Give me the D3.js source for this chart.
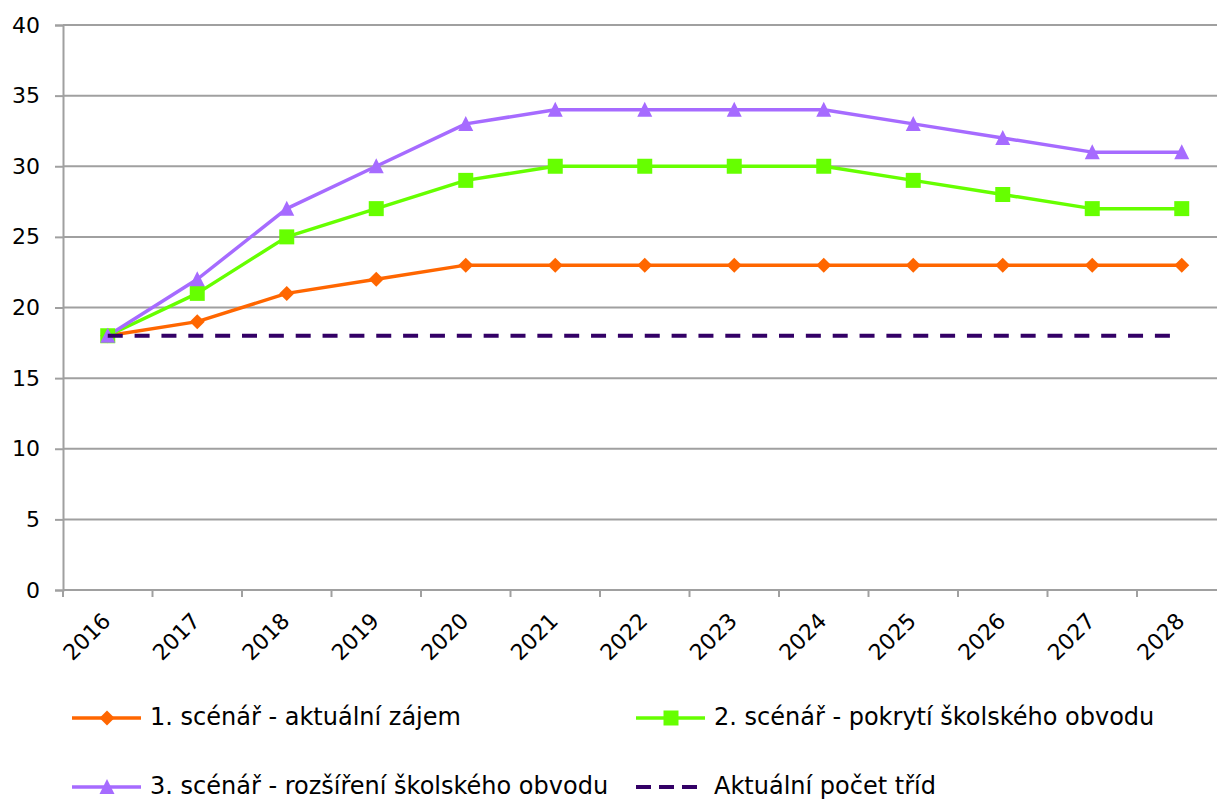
<!DOCTYPE html>
<html><head><meta charset="utf-8">
<script src="https://cdn.jsdelivr.net/npm/d3@7"></script>
<style>body{margin:0;background:#fff}svg{display:block;font-family:"DejaVu Sans",Verdana,sans-serif}</style>
</head><body><svg id="c" width="1217" height="799"></svg>
<script>
const years = ["2016","2017","2018","2019","2020","2021","2022","2023","2024","2025","2026","2027","2028"];
const scen1 = [18,19,21,22,23,23,23,23,23,23,23,23,23];
const scen2 = [18,21,25,27,29,30,30,30,30,29,28,27,27];
const scen3 = [18,22,27,30,33,34,34,34,34,33,32,31,31];
const current = [18,18,18,18,18,18,18,18,18,18,18,18,18];
const yTicks = [0,5,10,15,20,25,30,35,40];
const names = ["1. scénář - aktuální zájem","2. scénář - pokrytí školského obvodu","3. scénář - rozšíření školského obvodu","Aktuální počet tříd"];

const svg = d3.select("#c");
const L = 63, T = 25, B = 590, bw = 89.5;
const GRID = "#a0a0a0";
const x = d3.scaleBand().domain(years).range([L, L + bw*years.length]).paddingInner(0).paddingOuter(0);
const y = d3.scaleLinear().domain([0,40]).range([B, T]);
const cx = d => x(d) + x.bandwidth()/2;

// gridlines
svg.append("g").selectAll("line").data(yTicks).join("line")
  .attr("x1", L).attr("x2", 1230).attr("y1", d=>y(d)).attr("y2", d=>y(d))
  .attr("stroke", GRID).attr("stroke-width", 2);

// y axis
const ya = svg.append("g").attr("transform", `translate(${L},0)`)
  .call(d3.axisLeft(y).tickValues(yTicks).tickSize(8).tickPadding(15));
ya.select(".domain").attr("stroke",GRID).attr("stroke-width",2);
ya.selectAll(".tick line").attr("stroke",GRID).attr("stroke-width",2);
ya.selectAll("text").attr("font-size", 22).attr("fill","#000").attr("font-family","DejaVu Sans, Verdana, sans-serif");

// x axis (band boundaries as ticks)
const bounds = years.map(d => x(d)).concat([x(years[years.length-1]) + x.bandwidth()]);
svg.append("line").attr("x1", L).attr("x2", 1230).attr("y1", B).attr("y2", B).attr("stroke",GRID).attr("stroke-width",2);
svg.append("g").selectAll("line").data(bounds).join("line")
  .attr("x1", d=>d).attr("x2", d=>d).attr("y1", B).attr("y2", B+7)
  .attr("stroke",GRID).attr("stroke-width",2);
svg.append("g").selectAll("text").data(years).join("text")
  .attr("transform", d => `translate(${cx(d)},${B+28}) rotate(-45)`)
  .attr("text-anchor","end").attr("dominant-baseline","middle")
  .attr("font-size", 22).attr("fill","#000").text(d=>d);

const series = [
  {v: scen1, c: "#ff6600", m: "diamond"},
  {v: scen2, c: "#66ff00", m: "square"},
  {v: scen3, c: "#a66bff", m: "triangle"},
  {v: current, c: "#330066", m: null, dash: true}
];
const line = d3.line().x((d,i)=>cx(years[i])).y(d=>y(d));
const markerPath = {
  diamond: "M0,-7.5L7.5,0L0,7.5L-7.5,0Z",
  square: "M-7.5,-7.5H7.5V7.5H-7.5Z",
  triangle: "M0,-8L7.5,7L-7.5,7Z"
};

[series[0], series[1], series[2]].forEach(s => {
  svg.append("path").attr("d", line(s.v)).attr("fill","none").attr("stroke", s.c).attr("stroke-width",3.5).attr("stroke-linejoin","round");
});
[series[0], series[1], series[2]].forEach(s => {
  svg.append("g").selectAll("path").data(s.v).join("path")
    .attr("transform", (d,i)=>`translate(${cx(years[i])},${y(d)})`)
    .attr("d", markerPath[s.m]).attr("fill", s.c);
});
svg.append("path").attr("d", line(current)).attr("fill","none").attr("stroke","#330066")
  .attr("stroke-width",4).attr("stroke-dasharray","15,11.85").attr("stroke-linecap","butt");

// legend
const leg = [
  {x:72, y:718, s: series[0], n: names[0]},
  {x:636, y:718, s: series[1], n: names[1]},
  {x:72, y:787, s: series[2], n: names[2]},
  {x:636, y:787, s: series[3], n: names[3]}
];
leg.forEach(l => {
  const g = svg.append("g");
  g.append("line").attr("x1", l.x).attr("x2", l.x+69).attr("y1", l.y).attr("y2", l.y)
    .attr("stroke", l.s.c).attr("stroke-width", l.s.dash?4:3.5)
    .attr("stroke-dasharray", l.s.dash ? "15,8" : null);
  if (l.s.m) g.append("path").attr("transform", `translate(${l.x+35},${l.y})`)
    .attr("d", markerPath[l.s.m]).attr("fill", l.s.c);
  g.append("text").attr("x", l.x+78).attr("y", l.y).attr("dominant-baseline","middle")
    .attr("font-size", 24).attr("fill","#000").text(l.n);
});
</script></body></html>
